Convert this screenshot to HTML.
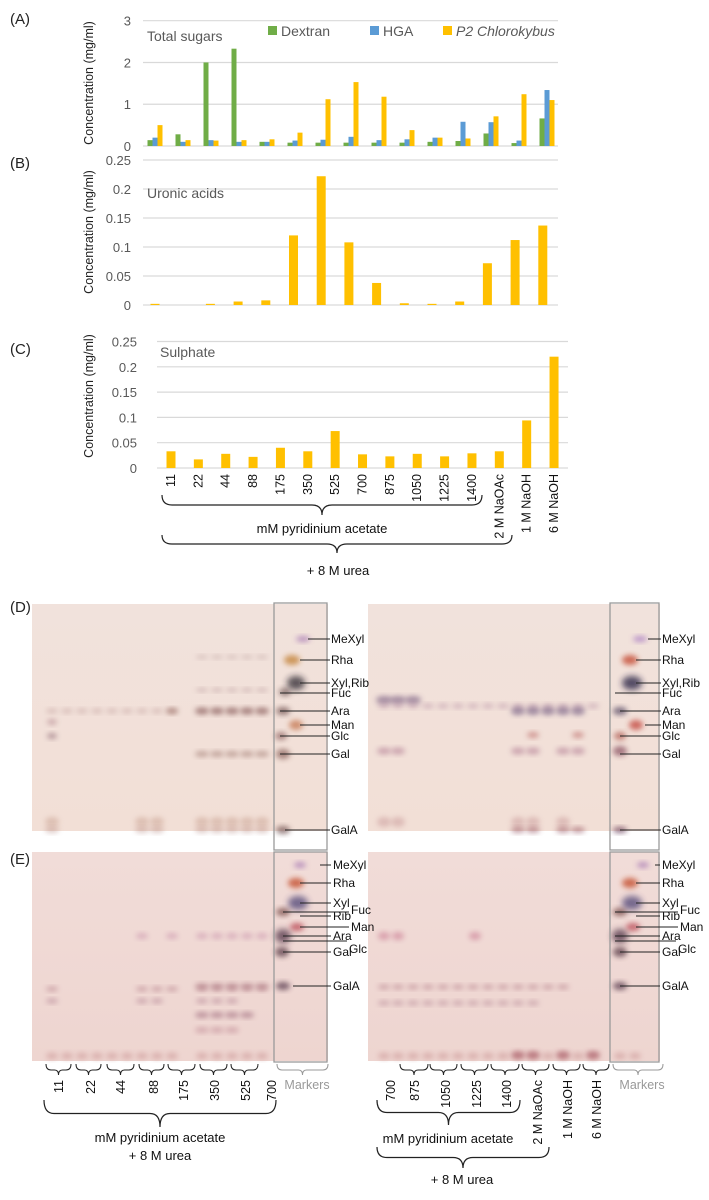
<!DOCTYPE html>
<html><head><meta charset="utf-8"><style>
body{margin:0;background:#fff}
svg{display:block;font-family:"Liberation Sans",sans-serif}
.tick{font-size:13px;fill:#595959}
.ax{font-size:12.5px;fill:#222}
.lbl{font-size:13px;fill:#222}
.tl{font-size:12px;fill:#111}
</style></head><body>
<svg id="fig" width="709" height="1200" viewBox="0 0 709 1200">
<defs>
<filter id="b2" x="-50%" y="-50%" width="200%" height="200%"><feGaussianBlur stdDeviation="2.6"/></filter>
<filter id="b3" x="-50%" y="-50%" width="200%" height="200%"><feGaussianBlur stdDeviation="3.2"/></filter>
<linearGradient id="plD" x1="0" y1="0" x2="0" y2="1"><stop offset="0" stop-color="#f1e2dc"/><stop offset="1" stop-color="#f2dfd6"/></linearGradient>
<linearGradient id="plE" x1="0" y1="0" x2="0" y2="1"><stop offset="0" stop-color="#f1dcd8"/><stop offset="1" stop-color="#eed5d0"/></linearGradient>
</defs>
<g id="charts"></g>
<g id="tlc"></g>
</svg>
<script>
const categories=["11","22","44","88","175","350","525","700","875","1050","1225","1400","2 M NaOAc","1 M NaOH","6 M NaOH"];
const dextran=[0.14,0.28,2.0,2.33,0.1,0.08,0.08,0.08,0.08,0.08,0.1,0.12,0.3,0.07,0.66];
const hga=[0.2,0.1,0.14,0.1,0.1,0.13,0.15,0.22,0.14,0.16,0.2,0.58,0.57,0.13,1.34];
const p2=[0.5,0.14,0.13,0.14,0.16,0.32,1.12,1.53,1.18,0.38,0.2,0.18,0.71,1.24,1.1];
const uronic=[0.002,0,0.002,0.006,0.008,0.12,0.222,0.108,0.038,0.003,0.002,0.006,0.072,0.112,0.137];
const sulphate=[0.033,0.017,0.028,0.022,0.040,0.033,0.073,0.027,0.023,0.028,0.023,0.029,0.033,0.094,0.22];
const ticksA=["0","1","2","3"];
const ticksB=["0","0.05","0.1","0.15","0.2","0.25"];

const NS="http://www.w3.org/2000/svg";
const charts=document.getElementById('charts');
function mk(tag,attrs,parent,text){const e=document.createElementNS(NS,tag);for(const k in attrs)e.setAttribute(k,attrs[k]);if(text!==undefined)e.textContent=text;(parent||charts).appendChild(e);return e;}

function yScale(y0,yTop,max){return v=>y0-(v/max)*(y0-yTop);}
function axisBlock(name,x1,x2,y,ticks,max,yTopPx,tickX,titleY){
  const g=mk('g',{});
  
  
  ticks.forEach((t,i)=>{const v=parseFloat(t);const yy=y(v);
    const ln=mk('line',{x1:x1,x2:x2,y1:yy,y2:yy,stroke:'#d9d9d9','stroke-width':1.2},g);
    
    
    const tx=mk('text',{x:tickX,y:yy+5,'text-anchor':'end',class:'tick'},g,t);
    
    
  });
  const tt=mk('text',{transform:`translate(93,${titleY}) rotate(-90)`,'text-anchor':'middle',class:'ax'},g,'Concentration (mg/ml)');
  
  
}
function bar(x,w,y,y0,color,name){const r=mk('rect',{x:x-w/2,y:y,width:w,height:Math.max(0,y0-y),fill:color});
  
  }

// Chart A
const yA=yScale(146,20.7,3);
axisBlock('chart-a',143,558,yA,ticksA,3,20.7,131,83);
const xA=i=>155+i*28;
categories.forEach((c,i)=>{
  bar(xA(i)-5,5,yA(dextran[i]),146,'#70ad47','bar-dextran');
  bar(xA(i),5,yA(hga[i]),146,'#5b9bd5','bar-hga');
  bar(xA(i)+5,5,yA(p2[i]),146,'#ffc000','bar-p2');
});
mk('text',{x:147,y:41,class:'tick',style:'font-size:14px'},undefined,'Total sugars');
const lg=[['#70ad47','Dextran',268],['#5b9bd5','HGA',370],['#ffc000','P2 Chlorokybus',443]];
lg.forEach(([c,t,x])=>{const g=mk('g',{});
  
  
  mk('rect',{x:x,y:26,width:9,height:9,fill:c},g);
  mk('text',{x:x+13,y:36,class:'tick',style:'font-size:14px;'+(t.startsWith('P2')?'font-style:italic':'')},g,t);});
mk('text',{x:10,y:24,class:'lbl',style:'font-size:15px'},undefined,'(A)');

// Chart B
const yB=yScale(305,160,0.25);
axisBlock('chart-b',143,558,yB,ticksB,0.25,160,131,232);
categories.forEach((c,i)=>bar(155+i*27.7,9,yB(uronic[i]),305,'#ffc000','bar-uronic'));
mk('text',{x:147,y:198,class:'tick',style:'font-size:14px'},undefined,'Uronic acids');
mk('text',{x:10,y:168,class:'lbl',style:'font-size:15px'},undefined,'(B)');

// Chart C
const yC=yScale(468,341.5,0.25);
axisBlock('chart-c',157,568,yC,ticksB,0.25,341.5,137,396);
const xC=i=>171+i*27.36;
categories.forEach((c,i)=>{bar(xC(i),9,yC(sulphate[i]),468,'#ffc000','bar-sulphate');
  const t=mk('text',{transform:`translate(${xC(i)+4},474) rotate(-90)`,'text-anchor':'end',class:'tl',style:'font-size:12.5px'},undefined,c);
  
  });
mk('text',{x:160,y:357,class:'tick',style:'font-size:14px'},undefined,'Sulphate');
mk('text',{x:10,y:354,class:'lbl',style:'font-size:15px'},undefined,'(C)');

function brace(x1,x2,y0,y1,name,parent){const xm=(x1+x2)/2,ym=(y0+y1)/2,r=10;
  const p=mk('path',{d:`M${x1},${y0} Q${x1},${ym} ${x1+r},${ym} L${xm-r},${ym} Q${xm},${ym} ${xm},${y1} Q${xm},${ym} ${xm+r},${ym} L${x2-r},${ym} Q${x2},${ym} ${x2},${y0}`,fill:'none',stroke:'#222','stroke-width':1.2},parent);
  
  }
function txt(x,y,s,name,cls,extra){const t=mk('text',Object.assign({x:x,y:y,'text-anchor':'middle',class:cls||'tl'},extra||{}),undefined,s);
  
  return t;}
brace(162,482,495,515,'brace-pyridinium');
txt(322,533,'mM pyridinium acetate','group-label-pyridinium','tl',{style:'font-size:13px'});
brace(162,512,535,553,'brace-urea');
txt(338,575,'+ 8 M urea','group-label-urea','tl',{style:'font-size:13px'});

// ---------- TLC ----------
const tlc=document.getElementById('tlc');
function T(tag,a,p){return mk(tag,a,p||tlc);}
function plate(x,y,w,h,fill,name){const r=T('rect',{x:x,y:y,width:w,height:h,fill:fill});
  
  }
function spot(x,y,rx,ry,c,o,f){T('ellipse',{cx:x,cy:y,rx:rx,ry:ry,fill:c,opacity:o*0.85,filter:'url(#'+(f||'b2')+')'});}
function band(xs,y,rx,ry,c,o){xs.forEach(x=>spot(x,y,rx,ry,c,o));}
function box(x,y,w,h){const r=T('rect',{x:x,y:y,width:w,height:h,fill:'none',stroke:'#9a9a9a','stroke-width':1.3});
  
  }
function lab(x0,x1,y,s,tx,ty){T('line',{x1:x0,x2:x1,y1:y,y2:y,stroke:'#222','stroke-width':1});
  const t=T('text',{x:tx,y:ty,class:'tl',style:'font-size:12px'});t.textContent=s;
  
  }

// D panels
plate(32,604,296,227,'url(#plD)','tlc-plate-d-left');
plate(368,604,292,227,'url(#plD)','tlc-plate-d-right');
const lanesDL=[52,67,82,97,112,127,142,157,172,202,217,232,247,262];
band(lanesDL.slice(0,9),711,6,2.5,'#b89090',0.5);
band([202,217,232,247,262],711,7,3.5,'#7a4a48',0.75);
band([172],711,6,3,'#8a5a50',0.6);
band([202,217,232,247,262],754,7,3,'#8a6058',0.55);
band([202,217,232,247,262],690,6,2,'#a07a80',0.45);
band([202,217,232,247,262],657,6,2,'#a08080',0.4);
band([52,142,157,202,217,232,247,262],822,7,5,'#c8a090',0.6);
band([52,142,157,202,217,232,247,262],830,7,3,'#b08078',0.5);
spot(52,736,5,3,'#7a5060',0.6);spot(52,722,5,3,'#9a6070',0.5);
spot(283,711,7,4,'#6b4a48',0.8);spot(281,736,6,4,'#7a4a48',0.7);spot(283,754,7,5,'#7a5048',0.75);spot(283,830,7,4,'#6b4a48',0.8);
spot(285,692,6,4,'#5a4040',0.7);
spot(303,639,7,3,'#a070b0',0.8);spot(292,660,8,5,'#c07a2a',0.85);spot(296,683,9,7,'#201a28',0.85,'b3');spot(296,725,7,5,'#c06a40',0.8);
box(274,603,53,247);
[['MeXyl',639,308],['Rha',660,300],['Xyl,Rib',683,300],['Fuc',693,280],['Ara',711,280],['Man',725,300],['Glc',736,280],['Gal',754,280],['GalA',830,285]].forEach(([s,y,x0])=>lab(x0,330,y,s,331,y+4));

const lanesDR=[384,398,413,428,443,458,473,488,503,518,533,548,563,578,593];
band(lanesDR.slice(0,3),700,8,4,'#5a3a6a',0.6);
band(lanesDR,706,6,2.5,'#a07090',0.45);
band([518,533,548,563,578],711,7,4,'#5a4070',0.65);
band([384,398,518,533,563,578],751,7,3.5,'#a06080',0.55);
band([533,578],735,6,3,'#b05050',0.6);
band([384,398,518,533,563],822,7,5,'#c89898',0.6);
band([518,533,563,578],830,7,3,'#8a4050',0.6);
spot(620,711,7,4,'#4a3a5a',0.8);spot(620,736,6,4,'#a03a30',0.7);spot(620,751,7,5,'#7a3a50',0.75);spot(620,830,7,3,'#5a2a48',0.8);
spot(640,639,7,3,'#a070c0',0.8);spot(630,660,8,5,'#c03a20',0.85);spot(632,683,10,7,'#201a40',0.9,'b3');spot(636,725,7,5,'#c03a30',0.85);
box(610,603,49,247);
[['MeXyl',639,648],['Rha',660,636],['Xyl,Rib',683,636],['Fuc',693,615],['Ara',711,620],['Man',725,645],['Glc',736,620],['Gal',754,620],['GalA',830,620]].forEach(([s,y,x0])=>lab(x0,661,y,s,662,y+4));

// E panels
plate(32,852,296,209,'url(#plE)','tlc-plate-e-left');
plate(368,852,292,209,'url(#plE)','tlc-plate-e-right');
const lanesEL=[52,67,82,97,112,127,142,157,172,202,217,232,247,262];
band([142,172,202,217,232,247,262],936,6,3,'#c080a0',0.55);
band([52,142,157,172,202,217,232,247,262],989,6,2.5,'#a06070',0.5);
band([202,217,232,247,262],986,7,3,'#8a4a58',0.5);
band([52,142,157,202,217,232],1001,6,2.5,'#9a6078',0.5);
band([202,217,232,247],1015,7,3,'#8a5068',0.6);
band([202,217,232],1030,7,3,'#b07080',0.5);
band(lanesEL,1056,6,3.5,'#c89090',0.6);
spot(283,912,7,4,'#6a3a38',0.8);spot(283,936,8,7,'#4a2a40',0.85,'b3');spot(282,952,7,5,'#4a2a38',0.8);spot(283,986,7,4,'#4a2a40',0.8);
spot(300,865,6,3,'#a070b0',0.8);spot(296,883,8,5,'#c0401a',0.85);spot(298,903,10,7,'#3a306a',0.8,'b3');spot(297,927,7,4,'#b03040',0.8);
box(274,852,53,210);
[['MeXyl',865,320],['Rha',883,300],['Xyl',903,300],['Rib',916,300],['Fuc',912,283],['Man',927,300],['Ara',936,283],['Glc',941,283],['Gal',952,283],['GalA',986,293]].forEach(([s,y,x0])=>{
  const tx={'Fuc':351,'Man':351,'Glc':349}[s]||333;const ty={'Fuc':y+2,'Man':y+4,'Glc':y+12}[s]||y+4;lab(x0,tx-2,y,s,tx,ty);});

band([384,398,475],936,6,4,'#c06080',0.55);
band([384,398,413,428,443,458,473,488,503,518,533,548,563],987,6,2.5,'#a06070',0.5);
band([384,398,413,428,443,458,473,488,503,518,533],1003,6,2.5,'#9a6078',0.45);
band([384,398,413,428,443,458,473,488,503,518,533,548,563,578,593,620,635],1056,6,3.5,'#c89090',0.6);
band([518,533,563,593],1055,7,4,'#9a4050',0.6);
spot(620,912,7,4,'#6a3a38',0.8);spot(620,936,8,7,'#4a2a40',0.85,'b3');spot(620,952,7,5,'#4a2a38',0.8);spot(620,986,7,4,'#4a2a40',0.8);
spot(643,865,6,3,'#a070b0',0.8);spot(630,883,8,5,'#c0401a',0.85);spot(632,903,10,7,'#3a306a',0.8,'b3');spot(633,927,7,4,'#b03040',0.8);
box(610,852,49,210);
[['MeXyl',865,655],['Rha',883,636],['Xyl',903,636],['Rib',916,636],['Fuc',912,615],['Man',927,636],['Ara',936,615],['Glc',941,615],['Gal',952,620],['GalA',986,620]].forEach(([s,y,x0])=>{
  const tx={'Fuc':680,'Man':680,'Glc':678}[s]||662;const ty={'Fuc':y+2,'Man':y+4,'Glc':y+12}[s]||y+4;lab(x0,tx-2,y,s,tx,ty);});

[['(D)',10,612],['(E)',10,864]].forEach(([s,x,y])=>{const t=T('text',{x:x,y:y,class:'lbl',style:'font-size:15px'});t.textContent=s;
  
  });

// E lane labels
const eLeftLabels=["11","22","44","88","175","350","525","700"];
const eLeftX=[59,91,121,154,184,215,246,272];
const eRightLabels=["700","875","1050","1225","1400","2 M NaOAc","1 M NaOH","6 M NaOH"];
const eRightX=[391,415,446,477,507,538,568,597];
function laneLabels(labels,xs){labels.forEach((s,i)=>{const t=T('text',{transform:`translate(${xs[i]+4},1080) rotate(-90)`,'text-anchor':'end',class:'tl',style:'font-size:12.5px'});t.textContent=s;
  
  });}
laneLabels(eLeftLabels,eLeftX);laneLabels(eRightLabels,eRightX);
function smallBrace(x1,x2,c){const xm=(x1+x2)/2;const p=T('path',{d:`M${x1},1064 Q${x1},1070 ${x1+5},1070 L${xm-4},1070 Q${xm},1070 ${xm},1075 Q${xm},1070 ${xm+4},1070 L${x2-5},1070 Q${x2},1070 ${x2},1064`,fill:'none',stroke:c,'stroke-width':1});
  
  }
[[46,71],[76,101],[107,134],[139,164],[168,195],[200,227],[231,258],[277,328]].forEach((a,i)=>smallBrace(a[0],a[1],i==7?'#999':'#222'));
[[400,428],[430,457],[461,488],[491,519],[522,549],[553,580],[583,609],[613,663]].forEach((a,i)=>smallBrace(a[0],a[1],i==7?'#999':'#222'));
[[307,1089],[642,1089]].forEach(([x,y])=>{const t=T('text',{x:x,y:y,'text-anchor':'middle',class:'tl',style:'font-size:12.5px;fill:#999'});t.textContent='Markers';
  
  });
brace(44,276,1100,1127,'brace-e-left',tlc);
txt(160,1142,'mM pyridinium acetate','group-label-e-left','tl',{style:'font-size:13px'});
txt(160,1160,'+ 8 M urea','group-label-e-left-urea','tl',{style:'font-size:13px'});
brace(377,520,1100,1125,'brace-e-right',tlc);
txt(448,1143,'mM pyridinium acetate','group-label-e-right','tl',{style:'font-size:13px'});
brace(377,549,1147,1168,'brace-e-right-urea',tlc);
txt(462,1184,'+ 8 M urea','group-label-e-right-urea','tl',{style:'font-size:13px'});
</script>
</body></html>
